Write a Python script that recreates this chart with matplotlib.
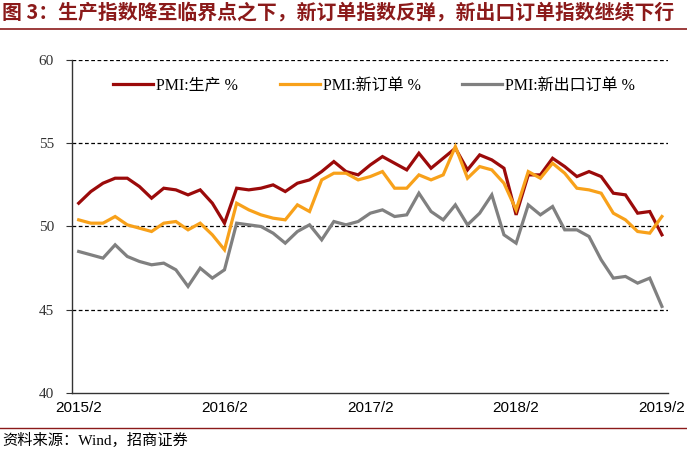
import matplotlib
matplotlib.use("Agg")
import matplotlib.pyplot as plt
import numpy as np

# Months 2015/2 .. 2019/2
months = [f"{y}/{m}" for y in range(2015, 2020) for m in range(1, 13)]
months = months[1:50]

production = [51.4, 52.1, 52.6, 52.9, 52.9, 52.4, 51.7, 52.3, 52.2, 51.9, 52.2,
              51.4, 50.2, 52.3, 52.2, 52.3, 52.5, 52.1, 52.6, 52.8, 53.3, 53.9, 53.3,
              53.1, 53.7, 54.2, 53.8, 53.4, 54.4, 53.5, 54.1, 54.7, 53.4, 54.3, 54.0,
              53.5, 50.7, 53.1, 53.1, 54.1, 53.6, 53.0, 53.3, 53.0, 52.0, 51.9, 50.8,
              50.9, 49.5]
new_orders = [50.4, 50.2, 50.2, 50.6, 50.1, 49.9, 49.7, 50.2, 50.3, 49.8, 50.2,
              49.5, 48.6, 51.4, 51.0, 50.7, 50.5, 50.4, 51.3, 50.9, 52.8, 53.2, 53.2,
              52.8, 53.0, 53.3, 52.3, 52.3, 53.1, 52.8, 53.1, 54.8, 52.9, 53.6, 53.4,
              52.6, 51.0, 53.3, 52.9, 53.8, 53.2, 52.3, 52.2, 52.0, 50.8, 50.4, 49.7,
              49.6, 50.6]
export_orders = [48.5, 48.3, 48.1, 48.9, 48.2, 47.9, 47.7, 47.8, 47.4, 46.4, 47.5,
                 46.9, 47.4, 50.2, 50.1, 50.0, 49.6, 49.0, 49.7, 50.1, 49.2, 50.3, 50.1,
                 50.3, 50.8, 51.0, 50.6, 50.7, 52.0, 50.9, 50.4, 51.3, 50.1, 50.8, 51.9,
                 49.5, 49.0, 51.3, 50.7, 51.2, 49.8, 49.8, 49.4, 48.0, 46.9, 47.0, 46.6,
                 46.9, 45.2]

series_labels = ["PMI:生产 %", "PMI:新订单 %", "PMI:新出口订单 %"]
xtick_labels = ["2015/2", "2016/2", "2017/2", "2018/2", "2019/2"]
yticks = [40, 45, 50, 55, 60]
title = "图 3：生产指数降至临界点之下，新订单指数反弹，新出口订单指数继续下行"
source = "资料来源：Wind，招商证券"

serif = ["Liberation Serif", "Noto Sans CJK SC", "DejaVu Sans"]
sans_cjk = ["Noto Sans CJK SC", "DejaVu Sans"]

fig = plt.figure(figsize=(6.87, 4.5), dpi=100)
ax = fig.add_axes([72/687, 57/450, (668-72)/687, (393-60)/450])

x = np.arange(len(months))
colors = ["#9B0A0A", "#F8A11A", "#808080"]
for vals, lab, c in zip([production, new_orders, export_orders], series_labels, colors):
    ax.plot(x, vals, color=c, lw=2.3, label=lab, solid_joinstyle="miter")

ax.set_xlim(-0.55, len(months) - 0.5)
ax.set_ylim(40, 60)
ax.set_yticks(yticks)
ax.set_yticklabels([str(v) for v in yticks], family=serif, fontsize=11, color="#333333")
tick_pos = [months.index(l) for l in xtick_labels]
ax.set_xticks(tick_pos)
ax.set_xticklabels(xtick_labels, family=["Liberation Sans"], fontsize=11)
ax.tick_params(axis="x", length=0, pad=6)
ax.tick_params(axis="y", length=4, direction="out", pad=9, color="#333333")

for v in yticks[1:]:
    ax.axhline(v, color="black", lw=0.9, ls=(0, (3, 2)), zorder=0)

for s in ["top", "right"]:
    ax.spines[s].set_visible(False)
ax.spines["left"].set_color("#333333")
ax.spines["bottom"].set_color("#333333")
ax.spines["left"].set_linewidth(1.0)
ax.spines["bottom"].set_linewidth(1.0)

leg = ax.legend(loc="upper left", bbox_to_anchor=(0.045, 0.99), ncol=3, frameon=False,
                prop={"family": serif, "size": 11.5}, handlelength=2.5, handletextpad=0.2,
                columnspacing=2.6)

fig.text(0.003, 0.973, title, family=sans_cjk, fontweight="bold", fontsize=14.3,
         color="#8B1A1A", va="center", ha="left")
fig.add_artist(plt.Line2D([0, 1], [1 - 29/450, 1 - 29/450], color="#8B1A1A", lw=1.2))
fig.add_artist(plt.Line2D([0, 1], [1 - 428/450, 1 - 428/450], color="#8B1A1A", lw=1.0))
fig.text(0.003, 1 - 440/450, source, family=serif, fontsize=11, color="black",
         va="center", ha="left")

fig.savefig("out.png", dpi=100)
